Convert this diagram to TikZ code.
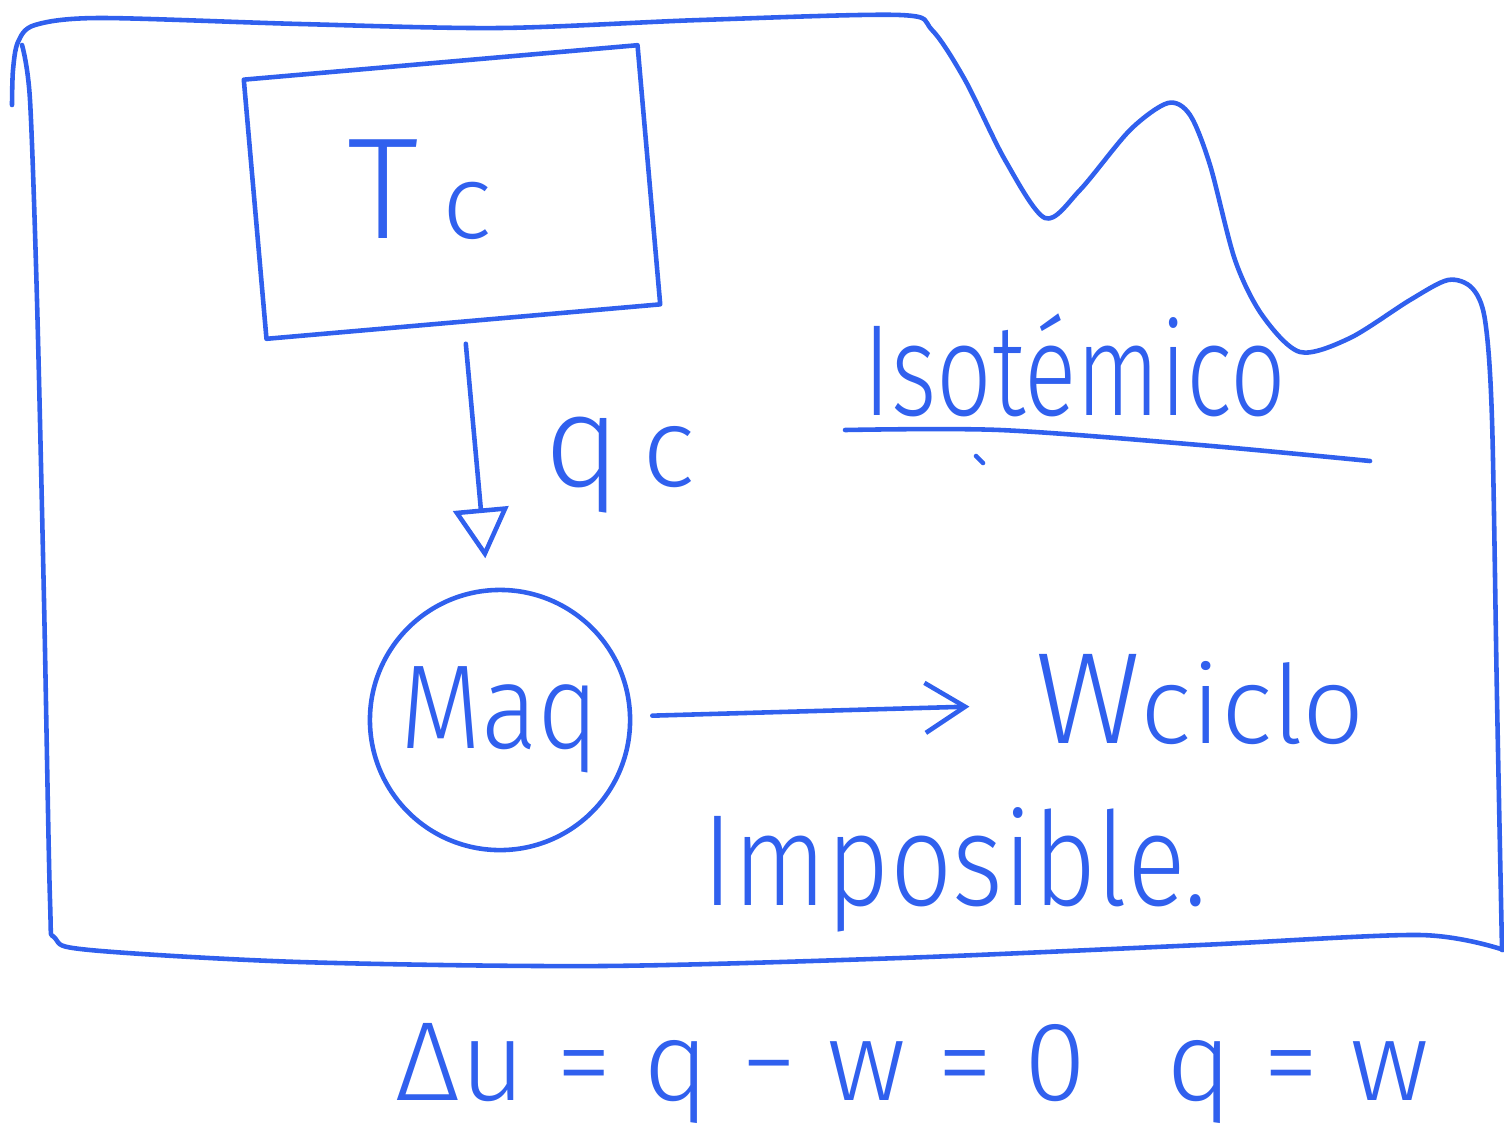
\documentclass[tikz,border=0pt]{standalone}
\usepackage{fontspec}
\usepackage{tikz}
\usetikzlibrary{arrows.meta}
\newfontfamily\hand{Fira Sans Light}
\definecolor{ink}{RGB}{48,96,238}
\newcommand{\hw}[1]{\hand\fontsize{#1}{#1}\selectfont}
\tikzset{
  pen/.style={draw=ink, line width=1.3pt, line cap=round, line join=round},
  heatarrow/.style={pen, -{Triangle[open, length=5mm, width=5.5mm]}},
  workarrow/.style={pen, -{Straight Barb[length=4mm, width=5mm]}},
  tempbox/.style={pen, rectangle, minimum width=3.95cm, minimum height=2.6cm, rotate=5},
  engine/.style={pen, circle, minimum size=2.6cm, inner sep=0pt, text=ink},
  word/.style={text=ink, inner sep=0pt}
}

\begin{document}
\begin{tikzpicture}[x=0.01cm, y=-0.01cm]
  \useasboundingbox (0,0) rectangle (1504,1130);
  % outline of the surroundings
  \draw[pen] plot[smooth] coordinates {(12,105) (13,70) (18,42) (35,25) (100,18) (300,24) (500,28) (700,20) (900,15) (932,30) (965,80) (1005,160) (1045,218) (1080,190) (1130,130) (1168,103) (1190,115) (1210,165) (1235,260) (1262,315) (1300,352) (1350,338) (1410,300) (1448,280) (1472,288) (1485,320) (1492,420) (1497,700) (1502,950)};
  \draw[pen] plot[smooth] coordinates {(22,45) (30,100) (37,300) (44,600) (50,900) (55,938) (90,950) (300,962) (600,966) (900,958) (1200,945) (1420,935) (1504,950)};
  % hot reservoir
  \node[tempbox] (tc) at (452,192) {};
  \node[word, font=\hw{41pt}] (tclabel) at (420,190) {T\,{\hw{30pt}c}};
  % engine and its heat and work
  \node[engine, font=\hw{34pt}] (maq) at (500,720) {\scalebox{0.88}[1]{Maq}};
  \node[word, font=\hw{37pt}] (qc) at (620,465) {q\,{\hw{32pt}c}};
  \node[word] (wciclo) at (1200,700) {{\hw{37pt}W}{\hw{31pt}ciclo}};
  \draw[heatarrow, shorten <=0.2cm, shorten >=0.3cm] (tc) -- (maq);
  \draw[workarrow, shorten <=0.2cm, shorten >=0.65cm] (maq) -- (wciclo);
  % notes
  \node[word, font=\hw{37pt}] (iso) at (1075,365) {\scalebox{0.75}[1]{Isotémico}};
  \draw[pen] plot[smooth] coordinates {(845,430) (1000,430) (1200,445) (1370,461)};
  \draw[pen] (976,456) -- (983,463);
  \node[word, font=\hw{37pt}] (imposible) at (955,870) {\scalebox{0.84}[1]{Imposible.}};
  \node[word, font=\hw{32pt}, anchor=base west] (balance) at (395,1100) {Δu = q − w = 0\hspace{0.8cm}q = w};
\end{tikzpicture}
\end{document}
